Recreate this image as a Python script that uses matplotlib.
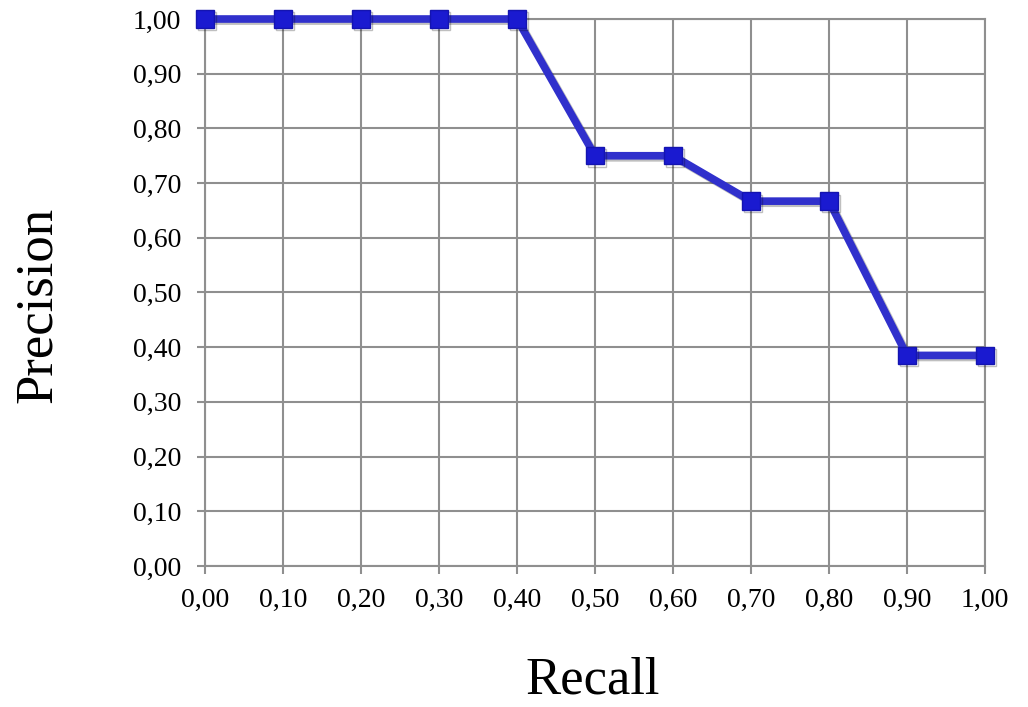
import matplotlib

matplotlib.use("Agg")
import matplotlib.pyplot as plt
import matplotlib.patheffects as pe
from matplotlib.ticker import FuncFormatter, MultipleLocator

recall = [0.0, 0.1, 0.2, 0.3, 0.4, 0.5, 0.6, 0.7, 0.8, 0.9, 1.0]
precision = [1.0, 1.0, 1.0, 1.0, 1.0, 0.75, 0.75, 0.667, 0.667, 0.385, 0.385]

plt.rcParams["font.family"] = ["Liberation Serif", "DejaVu Serif"]

grid_color = "#8f8f8f"

fig = plt.figure(figsize=(10.28, 7.07), dpi=100)
ax = fig.add_axes([205 / 1028, 141 / 707, 780 / 1028, 547 / 707])

ax.plot(
    recall,
    precision,
    color="#3030cc",
    linewidth=5.5,
    marker="s",
    markersize=12.5,
    markerfacecolor="#1a1ad0",
    markeredgecolor="#1414b0",
    markeredgewidth=1,
    clip_on=False,
    zorder=5,
    path_effects=[pe.SimpleLineShadow(offset=(1.5, -1.5), shadow_color="black", alpha=0.25), pe.Normal()],
)

ax.set_xlim(0, 1)
ax.set_ylim(0, 1)
ax.xaxis.set_major_locator(MultipleLocator(0.1))
ax.yaxis.set_major_locator(MultipleLocator(0.1))
fmt = FuncFormatter(lambda v, _: f"{v:.2f}".replace(".", ","))
ax.xaxis.set_major_formatter(fmt)
ax.yaxis.set_major_formatter(fmt)

ax.grid(True, color=grid_color, linewidth=1.5)
ax.set_axisbelow(True)
for spine in ax.spines.values():
    spine.set_color(grid_color)
    spine.set_linewidth(1.5)
ax.tick_params(axis="both", length=6, width=1.5, color=grid_color, labelsize=20)
ax.tick_params(axis="y", pad=11)
ax.tick_params(axis="x", pad=10)

fig.text(38 / 1028, 1 - 305 / 707, "Precision", fontsize=38, rotation=90, ha="center", va="center")
fig.text(593 / 1028, 1 - 694 / 707, "Recall", fontsize=38, ha="center", va="baseline")

fig.savefig("out.png", dpi=100)
plt.close(fig)
